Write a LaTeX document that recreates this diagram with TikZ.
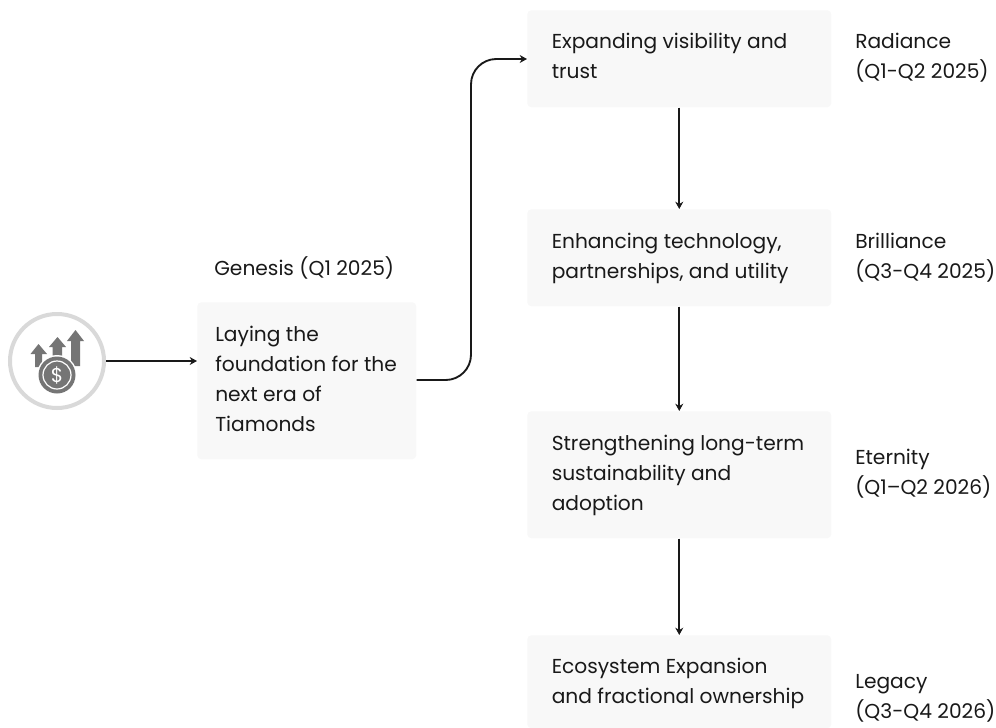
\documentclass[tikz,border=0pt]{standalone}
\usepackage{fontspec}
\setmainfont{Poppins}
\usetikzlibrary{arrows.meta}
\definecolor{boxgray}{HTML}{F8F8F8}
\definecolor{icongray}{HTML}{757575}
\definecolor{ringgray}{HTML}{D9D9D9}
\tikzset{
	stagebox/.style={fill=boxgray, rounded corners=3pt, anchor=north west, inner sep=0pt},
	stagetext/.style={anchor=west, align=left, font=\fontsize{15.15pt}{22.5pt}\selectfont, inner sep=0pt, text=black!90},
	link/.style={line width=1.4pt, black!90, -{Stealth[length=5.5pt,width=6pt]}},
}
\begin{document}
\begin{tikzpicture}[x=0.75pt, y=-0.75pt]
	\useasboundingbox (0,0) rectangle (996,728);
	% Boxes
	\node[stagebox, minimum width=164.25pt, minimum height=117.75pt] (genesis) at (197,302) {};
	\node[stagebox, minimum width=228pt, minimum height=72.75pt] (radiance) at (527,10) {};
	\node[stagebox, minimum width=228pt, minimum height=72.75pt] (brilliance) at (527,209) {};
	\node[stagebox, minimum width=228pt, minimum height=95.25pt] (eternity) at (527,411) {};
	\node[stagebox, minimum width=228pt, minimum height=69.75pt] (legacy) at (527,635) {};
	
	% Box texts
	\node[stagetext] (genesistext) at (215,378.5) {Laying the\\foundation for the\\next era of\\Tiamonds};
	\node[stagetext] (radiancetext) at (551.5,56) {Expanding visibility and\\trust};
	\node[stagetext] (brilliancetext) at (551.5,258) {Enhancing technology,\\partnerships, and utility};
	\node[stagetext] (eternitytext) at (551.5,475) {Strengthening long-term\\sustainability and\\adoption};
	\node[stagetext] (legacytext) at (551.5,683) {Ecosystem Expansion\\and fractional ownership};
	
	% Phase labels
	\node[stagetext] (genesislabel) at (214,268) {Genesis (Q1 2025)};
	\node[stagetext] (radiancelabel) at (855,58) {Radiance\\(Q1-Q2 2025)};
	\node[stagetext] (brilliancelabel) at (855,258) {Brilliance\\(Q3-Q4 2025)};
	\node[stagetext] (eternitylabel) at (855,474) {Eternity\\(Q1–Q2 2026)};
	\node[stagetext] (legacylabel) at (855,698) {Legacy\\(Q3-Q4 2026)};
	
	% Icon
	\node[circle, draw=ringgray, line width=3pt, fill=white, minimum size=70.5pt, inner sep=0pt] (icon) at (57,361) {};
	\fill[icongray] (35,367) -- (35,354) -- (30.5,354) -- (38.5,344) -- (47,354) -- (42,354) -- (42,367) -- cycle;
	\fill[icongray] (52.5,358) -- (52.5,347) -- (49,347) -- (57.5,337) -- (66,347) -- (62,347) -- (62,358) -- cycle;
	\fill[icongray] (71,366) -- (71,341) -- (67,341) -- (75.5,330) -- (84,341) -- (80,341) -- (80,366) -- cycle;
	\fill[white] (57,375) circle (20);
	\fill[icongray] (57,375) circle (18.5);
	\draw[white, line width=0.9pt] (57,375) circle (14);
	\node[text=white, font=\fontsize{15pt}{15pt}\selectfont, inner sep=0pt] (dollar) at (57,375) {\$};
	
	% Connectors
	\draw[link] (icon.east) -- (genesis.west |- icon.east);
	\draw[link, rounded corners=19pt] (genesis.east |- 0,380) -- (471,380) -- (471,59) -- (radiance.west |- 0,59);
	\draw[link] (radiance) -- (brilliance);
	\draw[link] (brilliance) -- (eternity);
	\draw[link] (eternity) -- (legacy);
\end{tikzpicture}
\end{document}
